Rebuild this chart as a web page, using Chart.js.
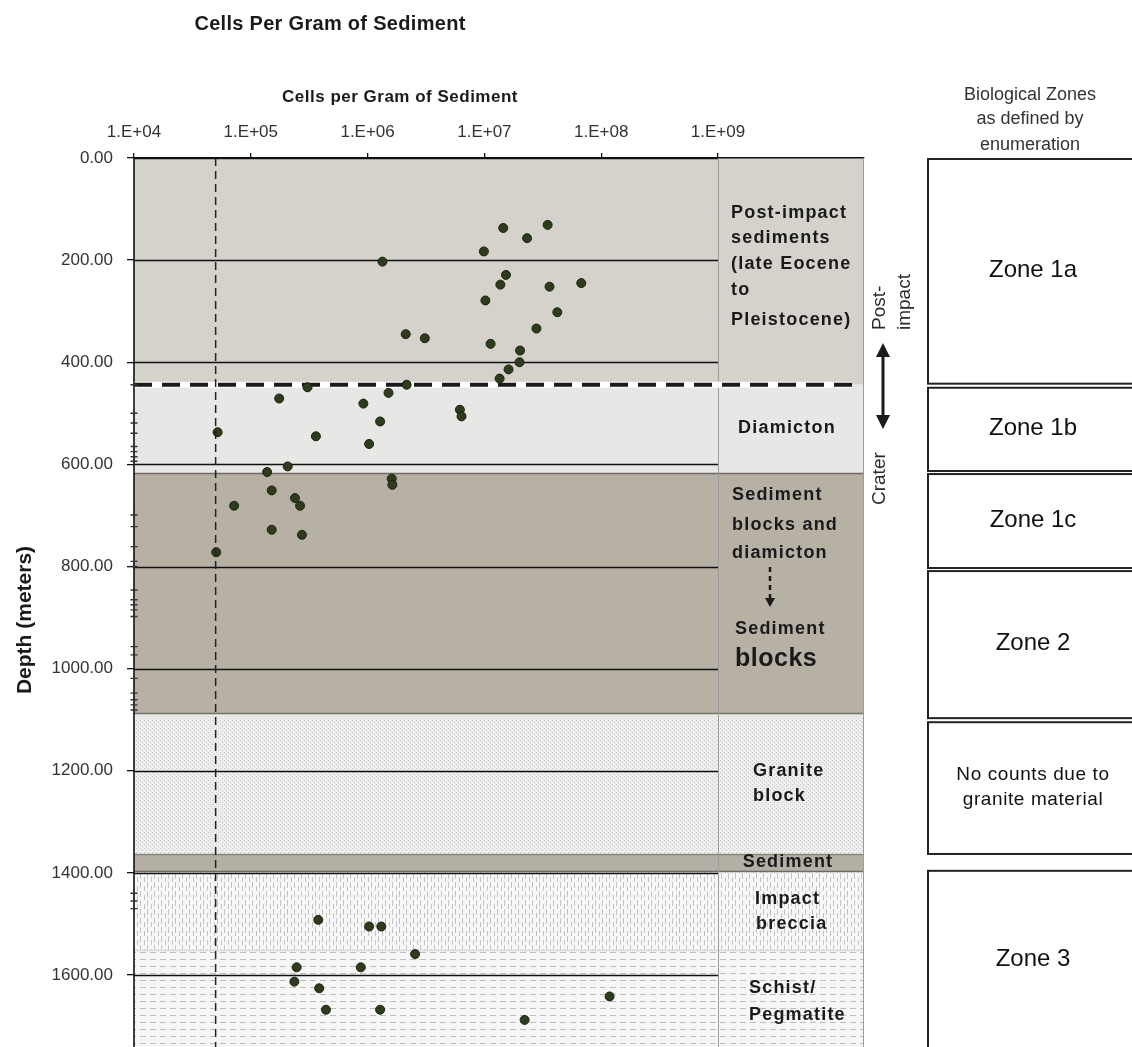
<!DOCTYPE html>
<html>
<head>
<meta charset="utf-8">
<script src="https://cdn.jsdelivr.net/npm/chart.js@4.4.0/dist/chart.umd.min.js"></script>
<style>
  html, body { margin: 0; padding: 0; background: #fff; }
</style>
</head>
<body>
<canvas id="myChart_cells" width="1132" height="1047"></canvas>
<script>
// cell counts (cells per gram, depth in m)
const cellsPerGram = [3.48e7, 1.45e7, 2.32e7, 9.9e6, 1.34e6, 1.53e7, 6.75e7, 1.37e7, 3.61e7, 1.02e7,
  4.21e7, 2.79e7, 2.12e6, 3.09e6, 1.13e7, 2.02e7, 2.0e7, 1.61e7, 1.35e7, 2.16e6,
  3.06e5, 1.51e6, 1.75e5, 9.2e5, 6.17e6, 6.37e6, 1.28e6, 5.2e4, 3.61e5, 1.03e6,
  2.07e5, 1.38e5, 1.61e6, 1.63e6, 1.51e5, 2.39e5, 2.64e5, 7.2e4, 1.51e5, 2.74e5,
  5.06e4, 3.78e5, 1.03e6, 1.31e6, 2.55e6, 2.47e5, 8.75e5, 2.36e5, 3.85e5, 4.40e5,
  1.28e6, 1.18e8, 2.21e7];
const depthMeters = [131, 137, 157, 183, 203, 229, 245, 248, 252, 279,
  302, 334, 345, 353, 364, 377, 400, 414, 432, 444,
  449, 460, 471, 481, 493, 506, 516, 537, 545, 560,
  604, 615, 628, 640, 651, 666, 681, 681, 728, 738,
  772, 1492, 1505, 1505, 1559, 1585, 1585, 1613, 1626, 1668,
  1668, 1642, 1688];

// sampled depths marked on the depth axis
const sampleDepths = [444, 500, 519, 539, 565, 575, 585, 594, 699, 722, 761, 790, 800,
  846, 865, 875, 885, 898, 957, 973, 1019, 1048, 1061, 1071, 1081, 1440, 1455, 1470];

// detection limit
const limitCells = [5e4, 5e4];
const limitDepth = [0, 1760];

// axes
const xTickValues = [1e4, 1e5, 1e6, 1e7, 1e8, 1e9];
const yTickValues = [0, 200, 400, 600, 800, 1000, 1200, 1400, 1600];
const xMin = 1e4, xMax = Math.pow(10, 10.25);
const yMax = 1741;

// lithology (depth m)
const layerNames = ['post', 'diamicton', 'blocks', 'granite', 'sediment', 'breccia', 'schist'];
const layerTop = [0, 444, 617, 1087, 1363, 1397, 1551];
const layerBottom = [444, 617, 1087, 1363, 1397, 1551, 1800];
const impactContact = 444;

// biological zones (depth m)
const zoneNames = [['Zone 1a'], ['Zone 1b'], ['Zone 1c'], ['Zone 2'], ['No counts due to', 'granite material'], ['Zone 3']];
const zoneTop = [0, 448, 617, 807, 1103, 1394];
const zoneBottom = [440, 611, 801, 1095, 1361, 1743];

const FONT = '"Liberation Sans", Arial, sans-serif';

function tile(w, h, bg, draw) {
  const c = document.createElement('canvas');
  c.width = w; c.height = h;
  const g = c.getContext('2d');
  g.fillStyle = bg;
  g.fillRect(0, 0, w, h);
  draw(g);
  return c;
}

const coreLayers = {
  id: 'coreLayers',
  beforeDraw(chart) {
    const { ctx, chartArea: a, scales: { x, y } } = chart;
    const fills = {
      post: '#d4d2cb',
      diamicton: '#e7e7e6',
      blocks: '#b6b0a5',
      granite: ctx.createPattern(tile(4, 4, '#ededed', g => {
        g.fillStyle = '#c9c9c9'; g.fillRect(0, 0, 1, 1); g.fillRect(2, 2, 1, 1);
      }), 'repeat'),
      sediment: '#b3afa5',
      breccia: ctx.createPattern(tile(7, 9, '#f7f7f7', g => {
        g.fillStyle = '#c4c4c4'; g.fillRect(0, 0, 1, 6); g.fillRect(4, 4, 1, 5);
      }), 'repeat'),
      schist: ctx.createPattern(tile(10, 7, '#f6f6f6', g => {
        g.fillStyle = '#bdbdbd'; g.fillRect(0, 0, 6, 1);
      }), 'repeat')
    };
    const edges = { blocks: '#6f6b63', granite: '#77736b', sediment: '#8a867d', breccia: '#6f6b63', schist: '#d8d8d8' };

    ctx.save();
    ctx.beginPath();
    ctx.rect(a.left, a.top, a.right - a.left, a.bottom - a.top);
    ctx.clip();
    layerNames.forEach((name, i) => {
      const y0 = y.getPixelForValue(layerTop[i]);
      const y1 = y.getPixelForValue(layerBottom[i]);
      ctx.fillStyle = fills[name];
      ctx.fillRect(a.left, y0, a.right - a.left, y1 - y0);
      if (edges[name]) {
        ctx.strokeStyle = edges[name];
        ctx.lineWidth = 1.5;
        ctx.beginPath();
        ctx.moveTo(a.left, Math.round(y0) + 0.5);
        ctx.lineTo(a.right, Math.round(y0) + 0.5);
        ctx.stroke();
      }
    });
    ctx.restore();
  },
  beforeDatasetsDraw(chart) {
    const { ctx, chartArea: a, scales: { x, y } } = chart;
    const xEnd = x.getPixelForValue(1e9);
    ctx.save();
    // label column dividers
    ctx.strokeStyle = '#9c9c9c';
    ctx.lineWidth = 1;
    ctx.beginPath();
    ctx.moveTo(Math.round(xEnd) + 0.5, a.top);
    ctx.lineTo(Math.round(xEnd) + 0.5, a.bottom);
    ctx.moveTo(a.right - 0.5, a.top);
    ctx.lineTo(a.right - 0.5, a.bottom);
    ctx.stroke();

    // depth grid lines
    ctx.strokeStyle = '#111';
    ctx.lineWidth = 1.3;
    yTickValues.forEach(v => {
      const py = Math.round(y.getPixelForValue(v)) + 0.5;
      ctx.beginPath();
      ctx.moveTo(a.left, py);
      ctx.lineTo(xEnd, py);
      ctx.stroke();
    });
    // axis line
    ctx.lineWidth = 1.6;
    ctx.beginPath();
    ctx.moveTo(a.left, a.top);
    ctx.lineTo(a.left, a.bottom);
    ctx.stroke();

    // post-impact / crater contact
    const cy = y.getPixelForValue(impactContact);
    ctx.strokeStyle = '#fff';
    ctx.lineWidth = 6;
    ctx.beginPath();
    ctx.moveTo(a.left, cy);
    ctx.lineTo(a.right - 12, cy);
    ctx.stroke();
    ctx.strokeStyle = '#1a1a1a';
    ctx.lineWidth = 4;
    ctx.setLineDash([18, 10]);
    ctx.beginPath();
    ctx.moveTo(a.left, cy);
    ctx.lineTo(a.right - 12, cy);
    ctx.stroke();
    ctx.restore();
  },
  afterDraw(chart) {
    const { ctx, chartArea: a, scales: { x, y } } = chart;
    ctx.save();
    ctx.fillStyle = '#1a1a1a';
    ctx.textBaseline = 'middle';

    const text = (s, px, py, font, align = 'left', ls = '0px') => {
      ctx.font = font;
      ctx.textAlign = align;
      ctx.letterSpacing = ls;
      ctx.fillText(s, px, py);
    };
    const bold = n => `bold ${n}px ${FONT}`;
    const reg = n => `${n}px ${FONT}`;

    // titles
    text('Cells Per Gram of Sediment', 330, 24, bold(20), 'center', '0.3px');
    text('Cells per Gram of Sediment', 400, 97, bold(17), 'center', '0.5px');
    ctx.save();
    ctx.translate(25, 620);
    ctx.rotate(-Math.PI / 2);
    text('Depth (meters)', 0, 0, bold(21), 'center');
    ctx.restore();

    // lithology labels
    const L = bold(18), ls = '1.2px';
    [['Post-impact', 213], ['sediments', 238], ['(late Eocene', 264], ['to', 290], ['Pleistocene)', 320]]
      .forEach(([s, py]) => text(s, 731, py, L, 'left', ls));
    text('Diamicton', 787, 428, L, 'center', ls);
    [['Sediment', 495], ['blocks and', 525], ['diamicton', 553]]
      .forEach(([s, py]) => text(s, 732, py, L, 'left', ls));
    text('Sediment', 735, 629, L, 'left', ls);
    text('blocks', 735, 659, bold(25), 'left', '0.5px');
    text('Granite', 753, 771, L, 'left', ls);
    text('block', 753, 796, L, 'left', ls);
    text('Sediment', 788, 862, L, 'center', ls);
    text('Impact', 755, 899, L, 'left', ls);
    text('breccia', 756, 924, L, 'left', ls);
    text('Schist/', 749, 988, L, 'left', ls);
    text('Pegmatite', 749, 1015, L, 'left', ls);

    // dashed arrow in blocks label
    ctx.strokeStyle = '#1a1a1a';
    ctx.lineWidth = 2.5;
    ctx.setLineDash([5, 4]);
    ctx.beginPath();
    ctx.moveTo(770, 567);
    ctx.lineTo(770, 598);
    ctx.stroke();
    ctx.setLineDash([]);
    ctx.beginPath();
    ctx.moveTo(765, 598); ctx.lineTo(775, 598); ctx.lineTo(770, 607);
    ctx.closePath();
    ctx.fill();

    // post-impact / crater arrow
    ctx.lineWidth = 3;
    ctx.beginPath();
    ctx.moveTo(883, 354);
    ctx.lineTo(883, 418);
    ctx.stroke();
    ctx.beginPath();
    ctx.moveTo(883, 343); ctx.lineTo(876, 357); ctx.lineTo(890, 357); ctx.closePath();
    ctx.moveTo(883, 429); ctx.lineTo(876, 415); ctx.lineTo(890, 415); ctx.closePath();
    ctx.fill();
    ctx.fillStyle = '#2a2a2a';
    [['Post-', 880, 330], ['impact', 905, 330], ['Crater', 880, 505]].forEach(([s, px, py]) => {
      ctx.save();
      ctx.translate(px, py);
      ctx.rotate(-Math.PI / 2);
      text(s, 0, 0, reg(19), 'left');
      ctx.restore();
    });

    // biological zones
    ctx.fillStyle = '#333';
    text('Biological Zones', 1030, 95, reg(18), 'center');
    text('as defined by', 1030, 119, reg(18), 'center');
    text('enumeration', 1030, 145, reg(18), 'center');
    ctx.strokeStyle = '#222';
    ctx.lineWidth = 2;
    ctx.fillStyle = '#111';
    zoneNames.forEach((lines, i) => {
      const y0 = y.getPixelForValue(zoneTop[i]);
      const y1 = y.getPixelForValue(zoneBottom[i]);
      ctx.strokeRect(928, y0 + 1, 220, y1 - y0);
      const mid = (y0 + y1) / 2;
      const f = lines.length > 1 ? reg(19) : reg(24);
      lines.forEach((s, k) => text(s, 1033, mid + (k - (lines.length - 1) / 2) * 25, f, 'center', lines.length > 1 ? '0.6px' : '0px'));
    });
    ctx.restore();
  }
};

const ctx = document.getElementById('myChart_cells').getContext('2d');

new Chart(ctx, {
  type: 'scatter',
  data: {
    datasets: [
      {
        label: 'Detection limit',
        data: limitCells.map((v, i) => ({ x: v, y: limitDepth[i] })),
        showLine: true,
        borderColor: '#222',
        borderWidth: 1.5,
        borderDash: [8, 5],
        pointRadius: 0
      },
      {
        label: 'Samples',
        data: sampleDepths.map(d => ({ x: xMin, y: d })),
        pointStyle: 'cross',
        pointRadius: 3.5,
        borderColor: '#333',
        borderWidth: 1.4,
        clip: false
      },
      {
        label: 'Cells per gram',
        data: cellsPerGram.map((v, i) => ({ x: v, y: depthMeters[i] })),
        pointRadius: 4.5,
        backgroundColor: '#2f3b1d',
        borderColor: '#1c2410',
        borderWidth: 1
      }
    ]
  },
  options: {
    responsive: false,
    animation: false,
    devicePixelRatio: 1,
    layout: { autoPadding: false, padding: { left: 0, top: 0, right: 268, bottom: 0 } },
    plugins: { legend: { display: false }, tooltip: { enabled: false } },
    scales: {
      x: {
        type: 'logarithmic',
        position: 'top',
        min: xMin,
        max: xMax,
        afterBuildTicks: s => { s.ticks = xTickValues.map(v => ({ value: v })); },
        afterFit: s => {
          s.height = 158;
          s.paddingLeft = 0; s.paddingRight = 0;
        },
        ticks: {
          callback: v => '1.E+' + String(Math.round(Math.log10(v))).padStart(2, '0'),
          font: { family: FONT, size: 17 },
          color: '#333',
          padding: 10,
          maxRotation: 0,
          autoSkip: false
        },
        grid: { drawOnChartArea: false, tickLength: 5, color: '#111', lineWidth: 1.3 },
        border: { display: true, color: '#111', width: 1.6 }
      },
      y: {
        type: 'linear',
        reverse: true,
        min: 0,
        max: yMax,
        afterBuildTicks: s => { s.ticks = yTickValues.map(v => ({ value: v })); },
        afterFit: s => {
          s.width = 134;
          s.paddingTop = 0; s.paddingBottom = 0;
        },
        ticks: {
          callback: v => v.toFixed(2),
          font: { family: FONT, size: 17 },
          color: '#333',
          padding: 14
        },
        grid: { drawOnChartArea: false, tickLength: 7, color: '#111', lineWidth: 1.3 },
        border: { display: false }
      }
    }
  },
  plugins: [coreLayers]
});
</script>
</body>
</html>
